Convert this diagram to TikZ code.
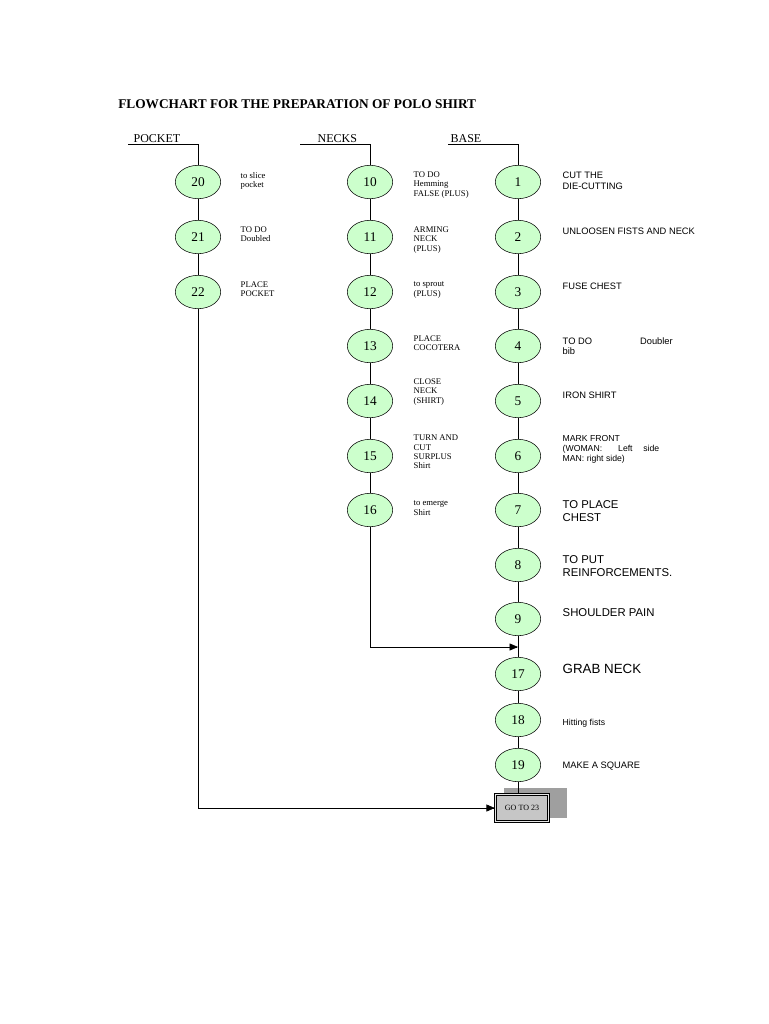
\documentclass[tikz,border=0pt]{standalone}
\usepackage{fontspec}
\setmainfont{Liberation Serif}
\newfontfamily\sansf{Liberation Sans}
\usetikzlibrary{shapes.geometric,arrows}
\definecolor{stagegreen}{HTML}{CCFFCC}
\tikzset{
  stage/.style={ellipse,draw,fill=stagegreen,minimum width=34pt,minimum height=25pt,inner sep=0pt,font=\normalsize},
  note/.style={anchor=west,align=left,font=\fontsize{6.5}{7}\selectfont},
  snote/.style={anchor=west,align=left,font=\sansf\fontsize{7}{8}\selectfont},
  bnote/.style={anchor=west,align=left,font=\sansf\fontsize{8.5}{9.5}\selectfont},
  head/.style={anchor=south west,font=\fontsize{9}{10}\selectfont,inner sep=1pt},
}
\begin{document}
\begin{tikzpicture}[x=0.75pt,y=-0.75pt]
            \useasboundingbox (0,0) rectangle (768,1024);
            \node[anchor=west,font=\bfseries\fontsize{10}{12}\selectfont,inner sep=0pt] (title) at (118,104) {FLOWCHART FOR THE PREPARATION OF POLO SHIRT};

            % Headings
            \coordinate (hp) at (128,144);
            \coordinate (hn) at (300,144);
            \coordinate (hb) at (448,144);
            \node[head] (tp) at (132,144) {POCKET};
            \node[head] (tn) at (316,144) {NECKS};
            \node[head] (tb) at (449,144) {BASE};

            % Pocket
            \node[stage] (s20) at (198,182) {20};
            \node[stage] (s21) at (198,237) {21};
            \node[stage] (s22) at (198,292) {22};
            \node[note] (n20) at (236,181) {to slice\\pocket};
            \node[note] (n21) at (236,234) {TO DO\\Doubled};
            \node[note] (n22) at (236,289) {PLACE\\POCKET};

            % Necks
            \node[stage] (s10) at (370,182) {10};
            \node[stage] (s11) at (370,237) {11};
            \node[stage] (s12) at (370,292) {12};
            \node[stage] (s13) at (370,346) {13};
            \node[stage] (s14) at (370,401) {14};
            \node[stage] (s15) at (370,456) {15};
            \node[stage] (s16) at (370,510) {16};
            \node[note] (n10) at (409,185) {TO DO\\Hemming\\FALSE (PLUS)};
            \node[note] (n11) at (409,240) {ARMING\\NECK\\(PLUS)};
            \node[note] (n12) at (409,290) {to sprout\\(PLUS)};
            \node[note] (n13) at (409,343) {PLACE\\COCOTERA};
            \node[note] (n14) at (409,392) {CLOSE\\NECK\\(SHIRT)};
            \node[note] (n15) at (409,452) {TURN AND\\CUT\\SURPLUS\\Shirt};
            \node[note] (n16) at (409,508) {to emerge\\Shirt};

            % Base
            \foreach \n/\y in {1/182,2/237,3/292,4/346,5/401,6/456,7/510,8/565,9/619,17/674,18/720,19/765}
                \node[stage] (s\n) at (518,\y) {\n};
            \node[snote] (n1) at (558,181) {CUT THE\\DIE-CUTTING};
            \node[snote] (n2) at (558,231) {UNLOOSEN FISTS AND NECK};
            \node[snote] (n3) at (558,286) {FUSE CHEST};
            \node[snote] (n4) at (558,346) {TO DO\hspace{36pt}Doubler\\bib};
            \node[snote] (n5) at (558,395) {IRON SHIRT};
            \node[snote,font=\sansf\fontsize{6.5}{7.5}\selectfont] (n6) at (558,449) {MARK FRONT\\(WOMAN:\hspace{12pt}Left\hspace{8pt}side\\MAN: right side)};
            \node[bnote] (n7) at (558,511) {TO PLACE\\CHEST};
            \node[bnote] (n8) at (558,566) {TO PUT\\REINFORCEMENTS.};
            \node[bnote] (n9) at (558,613) {SHOULDER PAIN};
            \node[bnote,font=\sansf\fontsize{10}{11}\selectfont] (n17) at (558,669) {GRAB NECK};
            \node[snote,font=\sansf\fontsize{6.5}{7.5}\selectfont] (n18) at (558,723) {Hitting fists};
            \node[snote] (n19) at (558,766) {MAKE A SQUARE};

            % Go to box
            \fill[gray!75] (504,788) rectangle (567,818);
            \node[draw,thick,fill=gray!45,minimum width=40pt,minimum height=20pt,font=\fontsize{6}{7}\selectfont,double=gray!20,double distance=1pt] (go) at (522,808) {GO TO 23};

            % Lines
            \draw (hp) -| (s20);
            \draw (hn) -| (s10);
            \draw (hb) -| (s1);
            \draw (s20) -- (s21) -- (s22);
            \draw (s10) -- (s11) -- (s12) -- (s13) -- (s14) -- (s15) -- (s16);
            \draw (s1) -- (s2) -- (s3) -- (s4) -- (s5) -- (s6) -- (s7) -- (s8) -- (s9) -- (s17) -- (s18) -- (s19) -- (s19 |- go.north);
            \coordinate (j) at (518,647);
            \draw[-triangle 45] (s16) |- (j);
            \draw[-triangle 45] (s22) |- (go.west);
        \end{tikzpicture}
\end{document}
